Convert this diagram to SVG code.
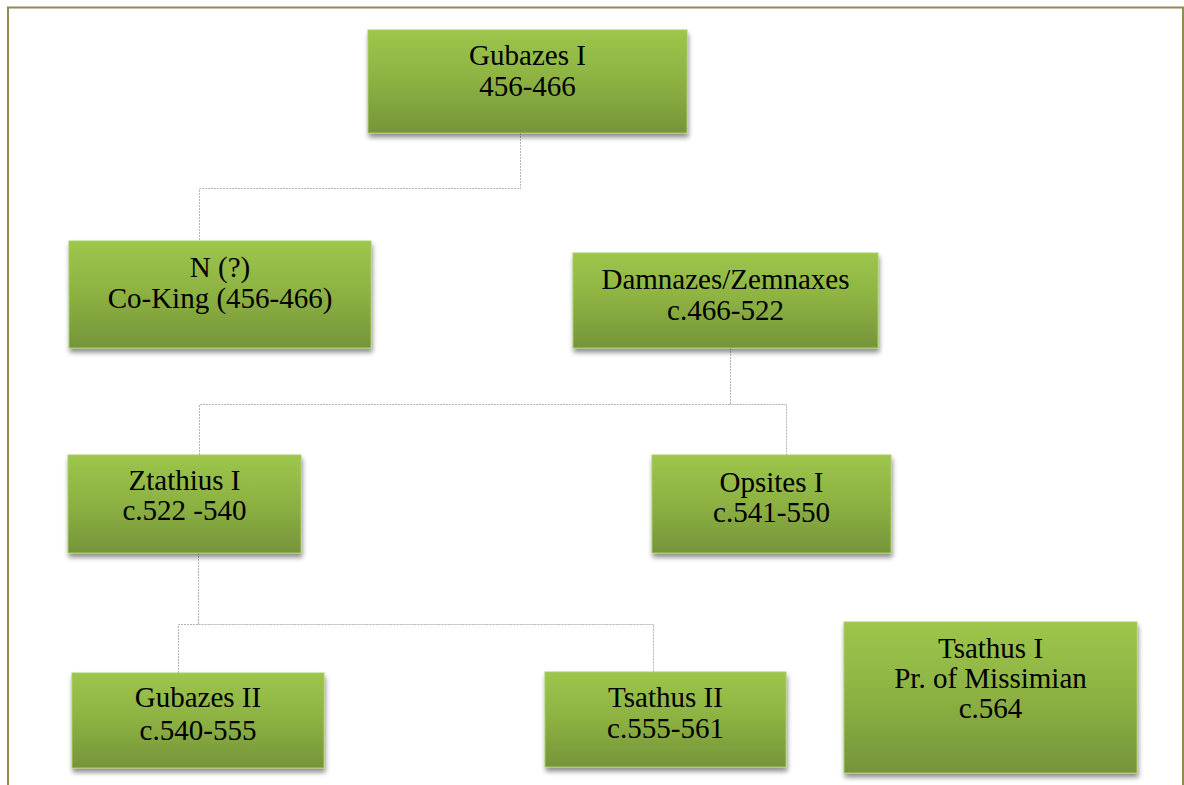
<svg xmlns="http://www.w3.org/2000/svg" width="1184" height="785" viewBox="0 0 1184 785">
<style>
.box{fill:url(#g);stroke:#a9cc66;stroke-width:1;filter:url(#sh)}
.t{font-family:"Liberation Serif","Times New Roman",serif;font-size:29px;fill:#000;text-anchor:middle}
.c{fill:none;stroke:#b4b4b4;stroke-width:1;stroke-dasharray:2 1}
</style>
<defs>
<linearGradient id="g" x1="0" y1="0" x2="0" y2="1">
<stop offset="0" stop-color="#9dc64b"/>
<stop offset="0.5" stop-color="#8cb142"/>
<stop offset="1" stop-color="#759439"/>
</linearGradient>
<filter id="sh" x="-10%" y="-10%" width="120%" height="130%">
<feGaussianBlur in="SourceAlpha" stdDeviation="2.5"/>
<feOffset dx="1" dy="4" result="b"/>
<feComponentTransfer><feFuncA type="linear" slope="0.45"/></feComponentTransfer>
<feMerge><feMergeNode/><feMergeNode in="SourceGraphic"/></feMerge>
</filter>
</defs>
<rect width="1184" height="785" fill="#fff"/>
<path d="M8 785 V7.5 H1183 V785" fill="none" stroke="#948a54" stroke-width="2"/>
<g id="connectors">
<path class="c" d="M520.5 133 V188.5 H199.5 V241"/>
<path class="c" d="M730.5 348 V404.5 H199.5 V455 M730.5 404.5 H786.5 V455"/>
<path class="c" d="M198.5 553 V624.5 H178.5 V673 M198.5 624.5 H653.5 V672"/>
</g>
<g id="gubazes1">
<rect class="box" x="368" y="30" width="319" height="103"/>
<text class="t" x="527.5" y="65">Gubazes I</text>
<text class="t" x="527.5" y="96">456-466</text>
</g>
<g id="n-coking">
<rect class="box" x="69" y="241" width="302" height="107"/>
<text class="t" x="220" y="277">N (?)</text>
<text class="t" x="220" y="308">Co-King (456-466)</text>
</g>
<g id="damnazes">
<rect class="box" x="573" y="253" width="305" height="95"/>
<text class="t" x="725.5" y="289">Damnazes/Zemnaxes</text>
<text class="t" x="725.5" y="320">c.466-522</text>
</g>
<g id="ztathius1">
<rect class="box" x="68" y="455" width="233" height="98"/>
<text class="t" x="184.5" y="490">Ztathius I</text>
<text class="t" x="184.5" y="520">c.522 -540</text>
</g>
<g id="opsites1">
<rect class="box" x="652" y="455" width="239" height="98"/>
<text class="t" x="771.5" y="492">Opsites I</text>
<text class="t" x="771.5" y="522">c.541-550</text>
</g>
<g id="gubazes2">
<rect class="box" x="72" y="673" width="252" height="95"/>
<text class="t" x="198" y="707">Gubazes II</text>
<text class="t" x="198" y="740">c.540-555</text>
</g>
<g id="tsathus2">
<rect class="box" x="545" y="672" width="241" height="95"/>
<text class="t" x="665.5" y="707">Tsathus II</text>
<text class="t" x="665.5" y="738">c.555-561</text>
</g>
<g id="tsathus1">
<rect class="box" x="844" y="622" width="293" height="151"/>
<text class="t" x="990.5" y="658">Tsathus I</text>
<text class="t" x="990.5" y="688">Pr. of Missimian</text>
<text class="t" x="990.5" y="718">c.564</text>
</g>
</svg>
